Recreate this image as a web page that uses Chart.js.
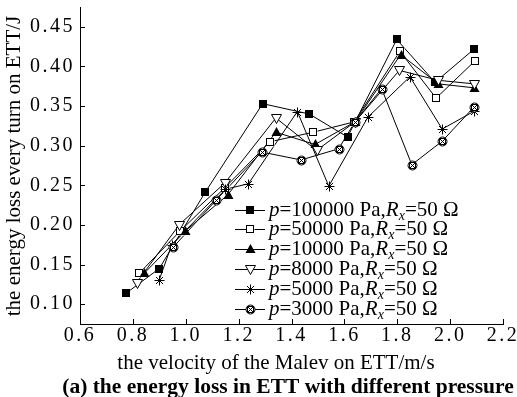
<!DOCTYPE html>
<html>
<head>
<meta charset="utf-8">
<script src="https://cdn.jsdelivr.net/npm/chart.js@4.4.1/dist/chart.umd.min.js"></script>
<style>
html,body{margin:0;padding:0;background:#fff}
canvas{display:block}
</style>
</head>
<body>
<canvas id="chart" width="517" height="397" style="width:517px;height:397px"></canvas>
<script>

// pressures of each run, resistance is the same for all
const pressures = [100000, 50000, 10000, 8000, 5000, 3000]
const resistance = 50

// velocity (m/s) and energy loss per turn (J) for each pressure
const v100000 = [0.773, 0.900, 1.073, 1.291, 1.467, 1.612, 1.798, 1.943, 2.091]
const e100000 = [0.1135, 0.145, 0.241, 0.353, 0.340, 0.311, 0.434, 0.380, 0.422]

const v50000 = [0.824, 0.978, 1.148, 1.319, 1.482, 1.637, 1.810, 1.947, 2.094]
const e50000 = [0.139, 0.192, 0.247, 0.305, 0.317, 0.330, 0.419, 0.360, 0.407]

const v10000 = [0.843, 0.997, 1.159, 1.341, 1.489, 1.640, 1.813, 1.955, 2.091]
const e10000 = [0.139, 0.192, 0.238, 0.317, 0.3015, 0.330, 0.415, 0.378, 0.373]

const v8000 = [0.814, 0.976, 1.148, 1.341, 1.495, 1.640, 1.808, 1.955, 2.091]
const e8000 = [0.127, 0.2005, 0.253, 0.335, 0.294, 0.330, 0.395, 0.3825, 0.378]

const v5000 = [0.900, 0.947, 1.150, 1.237, 1.422, 1.541, 1.689, 1.848, 1.970, 2.091]
const e5000 = [0.131, 0.175, 0.245, 0.252, 0.343, 0.249, 0.336, 0.387, 0.321, 0.3435]

const v3000 = [0.953, 1.114, 1.287, 1.436, 1.578, 1.640, 1.741, 1.855, 1.970, 2.091]
const e3000 = [0.172, 0.231, 0.292, 0.282, 0.296, 0.330, 0.372, 0.276, 0.3057, 0.349]

const xTicks = [0.6, 0.8, 1.0, 1.2, 1.4, 1.6, 1.8, 2.0, 2.2]
const yTicks = [0.10, 0.15, 0.20, 0.25, 0.30, 0.35, 0.40, 0.45]

const xTitle = "the velocity of the Malev on ETT/m/s"
const yTitle = "the energy loss every turn on ETT/J"
const caption = "(a) the energy loss in ETT with different pressure"

const FONT = "'Liberation Serif', 'Times New Roman', serif"
const markerKinds = ["square", "openSquare", "triangle", "downTriangle", "star", "circleX"]

// draws one marker centred on x,y
function drawMarker(g, kind, x, y){
g.save()
g.translate(Math.round(x) + 0.5, Math.round(y) + 0.5)
g.strokeStyle = "#000"
g.fillStyle = "#000"
g.lineWidth = 1
if(kind == "square"){
g.fillRect(-4.5, -4.5, 8, 8)
}
if(kind == "openSquare"){
g.fillStyle = "#fff"
g.fillRect(-4, -4, 8, 8)
g.strokeRect(-4, -4, 7, 7)
}
if(kind == "triangle"){
g.beginPath()
g.moveTo(0, -5.5); g.lineTo(5, 3.5); g.lineTo(-5, 3.5)
g.closePath(); g.fill()
}
if(kind == "downTriangle"){
g.beginPath()
g.moveTo(-5, -4); g.lineTo(5, -4); g.lineTo(0, 5)
g.closePath()
g.fillStyle = "#fff"; g.fill(); g.stroke()
}
if(kind == "star"){
g.beginPath()
for(let k = 0; k < 4; k++){
const a = k * Math.PI / 4
g.moveTo(-5 * Math.cos(a), -5 * Math.sin(a))
g.lineTo(5 * Math.cos(a), 5 * Math.sin(a))
}
g.stroke()
}
if(kind == "circleX"){
g.beginPath()
g.arc(0, 0, 4.5, 0, Math.PI * 2)
g.fillStyle = "#fff"; g.fill(); g.stroke()
g.strokeRect(-3, -3, 6, 6)
g.beginPath()
g.moveTo(-3, -3); g.lineTo(3, 3)
g.moveTo(3, -3); g.lineTo(-3, 3)
g.stroke()
}
g.restore()
}

const series = [
[v100000, e100000],
[v50000, e50000],
[v10000, e10000],
[v8000, e8000],
[v5000, e5000],
[v3000, e3000]
]

const datasets = series.map((s, i) => ({
label: "p=" + pressures[i] + " Pa",
data: s[0].map((x, k) => ({x: x, y: s[1][k]})),
borderColor: "#000",
backgroundColor: "#000",
borderWidth: 1,
pointRadius: 0,
fill: false,
tension: 0
}))

// markers on top of every line, at the positions the scales gave the points
const pointMarkers = {
id: "pointMarkers",
afterDatasetsDraw(chart){
chart.data.datasets.forEach((d, i) => {
chart.getDatasetMeta(i).data.forEach(pt => drawMarker(chart.ctx, markerKinds[i], pt.x, pt.y))
})
}
}

// tick labels are a little spaced out
const tickSpacing = {
id: "tickSpacing",
beforeDraw(chart){ chart.ctx.letterSpacing = "2.5px" },
beforeDatasetsDraw(chart){ chart.ctx.letterSpacing = "0px" }
}

// ticks point into the plot, plus axis titles and caption
const axisExtras = {
id: "axisExtras",
afterDraw(chart){
const {ctx, scales, chartArea} = chart
ctx.save()
ctx.strokeStyle = "#000"
ctx.fillStyle = "#000"
ctx.lineWidth = 1
ctx.beginPath()
xTicks.forEach(v => {
const px = Math.round(scales.x.getPixelForValue(v)) + 0.5
ctx.moveTo(px, chartArea.bottom)
ctx.lineTo(px, chartArea.bottom - 5)
})
yTicks.forEach(v => {
const py = Math.round(scales.y.getPixelForValue(v)) + 0.5
ctx.moveTo(chartArea.left, py)
ctx.lineTo(chartArea.left + 5, py)
})
ctx.stroke()

ctx.textAlign = "center"
ctx.textBaseline = "middle"
ctx.font = "21px " + FONT
ctx.fillText(xTitle, 276, 363)

ctx.font = "bold 21.5px " + FONT
ctx.fillText(caption, 288, 387)

ctx.save()
ctx.translate(14, 166)
ctx.rotate(-Math.PI / 2)
ctx.font = "21px " + FONT
ctx.fillText(yTitle, 0, 0)
ctx.restore()
ctx.restore()
}
}

// legend with italic p, R and subscript x
function drawRich(ctx, x, y, parts){
parts.forEach(p => {
ctx.font = (p.italic ? "italic " : "") + (p.size || 21) + "px " + FONT
ctx.fillText(p.text, x, y + (p.dy || 0))
x += ctx.measureText(p.text).width
})
}

const richLegend = {
id: "richLegend",
afterDraw(chart){
const ctx = chart.ctx
ctx.save()
ctx.fillStyle = "#000"
ctx.strokeStyle = "#000"
ctx.lineWidth = 1
ctx.textAlign = "left"
ctx.textBaseline = "alphabetic"
pressures.forEach((p, i) => {
const y = 209.5 + i * 19.8
ctx.beginPath()
ctx.moveTo(235, Math.round(y) + 0.5)
ctx.lineTo(265, Math.round(y) + 0.5)
ctx.stroke()
drawMarker(ctx, markerKinds[i], 250, y)
drawRich(ctx, 269, y + 6, [
{text: "p", italic: true},
{text: "=" + p + " Pa,"},
{text: "R", italic: true},
{text: "x", italic: true, size: 14, dy: 4},
{text: "=" + resistance + " \u03a9"}
])
})
ctx.restore()
}
}

new Chart(document.getElementById("chart"), {
type: "line",
data: {datasets: datasets},
plugins: [tickSpacing, pointMarkers, axisExtras, richLegend],
options: {
responsive: false,
animation: false,
layout: {padding: {top: 7, right: 0, bottom: 0, left: 0}},
plugins: {
legend: {display: false},
tooltip: {enabled: false},
title: {display: false}
},
scales: {
x: {
type: "linear",
min: 0.6,
max: 2.2,
afterBuildTicks: s => { s.ticks = xTicks.map(v => ({value: v})) },
afterFit: s => { s.height = 73; s.paddingLeft = 0; s.paddingRight = 14 },
ticks: {
callback: v => v.toFixed(1),
color: "#000",
font: {family: FONT, size: 20},
padding: 0,
maxRotation: 0,
autoSkip: false
},
grid: {display: true, drawOnChartArea: false, drawTicks: false},
border: {display: true, color: "#000", width: 1}
},
y: {
type: "linear",
min: 0.075,
max: 0.475,
afterBuildTicks: s => { s.ticks = yTicks.map(v => ({value: v})) },
afterFit: s => { s.width = 80; s.paddingTop = 0; s.paddingBottom = 0 },
ticks: {
callback: v => v.toFixed(2),
color: "#000",
font: {family: FONT, size: 20},
padding: 5,
autoSkip: false
},
grid: {display: true, drawOnChartArea: false, drawTicks: false},
border: {display: true, color: "#000", width: 1}
}
}
}
})

</script>
</body>
</html>
